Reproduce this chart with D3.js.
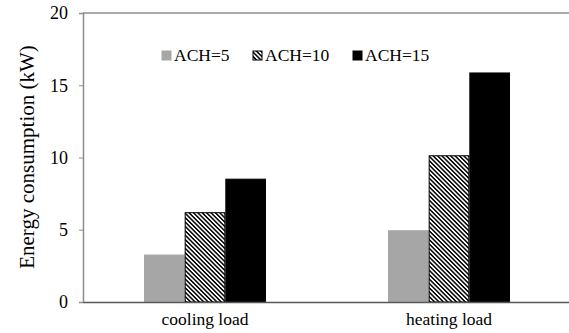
<!DOCTYPE html>
<html>
<head>
<meta charset="utf-8">
<script src="https://cdn.jsdelivr.net/npm/d3@7"></script>
<style>
    body { margin: 0; background: #fff; }
    svg text { font-family: "Liberation Serif", "Times New Roman", serif; fill: #000; }
</style>
</head>
<body>
<div id="chart"></div>
<script>
// chart values
var categories = ['cooling load', 'heating load'];
var seriesNames = ['ACH=5', 'ACH=10', 'ACH=15'];
var ach5 = [3.25, 4.93];
var ach10 = [6.18, 10.12];
var ach15 = [8.5, 15.85];
var yTicks = [0, 5, 10, 15, 20];

var width = 569, height = 333;
var margin = { top: 13, right: -2, bottom: 31, left: 83 };

var svg = d3.select('#chart').append('svg')
    .attr('width', width)
    .attr('height', height);

// diagonal hatch for the middle series, stripes running top-left to bottom-right
var defs = svg.append('defs');
defs.append('pattern')
    .attr('id', 'hatch')
    .attr('patternUnits', 'userSpaceOnUse')
    .attr('width', 3.1)
    .attr('height', 3.1)
    .attr('patternTransform', 'rotate(45)')
    .call((p) => {
        p.append('rect').attr('width', 3.1).attr('height', 3.1).attr('fill', '#fff');
        p.append('rect').attr('width', 3.1).attr('height', 1.5).attr('fill', '#000');
    });

var fills = ['#a6a6a6', 'url(#hatch)', '#000'];
var strokes = ['#a6a6a6', '#000', '#000'];

var x0 = d3.scaleBand()
    .domain(categories)
    .range([margin.left, width - margin.right])
    .paddingInner(0.5)
    .paddingOuter(0.25);

var x1 = d3.scaleBand()
    .domain(seriesNames)
    .range([0, x0.bandwidth()]);

var y = d3.scaleLinear()
    .domain([0, 20])
    .range([height - margin.bottom, margin.top]);

// frame top line
svg.append('line')
    .attr('x1', margin.left).attr('x2', width)
    .attr('y1', y(20)).attr('y2', y(20))
    .attr('stroke', '#8c8c8c').attr('stroke-width', 1.5);

// y axis
var yAxis = svg.append('g')
    .attr('transform', 'translate(' + margin.left + ',0)')
    .call(d3.axisLeft(y).tickValues(yTicks).tickSize(4).tickPadding(11));
yAxis.select('.domain').attr('stroke', '#8c8c8c').attr('stroke-width', 1.5);
yAxis.selectAll('.tick line').attr('stroke', '#8c8c8c');
yAxis.selectAll('.tick text').attr('font-size', 18);

// bars
var table = categories.map((c, i) => ({
    cat: c,
    values: [ach5[i], ach10[i], ach15[i]]
}));

var groups = svg.selectAll('.group')
    .data(table).enter().append('g')
    .attr('class', 'group')
    .attr('transform', (d) => 'translate(' + x0(d.cat) + ',0)');

groups.selectAll('rect')
    .data((d) => d.values.map((v, j) => ({ name: seriesNames[j], value: v, j: j })))
    .enter().append('rect')
    .attr('x', (d) => x1(d.name) + 0.5)
    .attr('width', x1.bandwidth() - 1)
    .attr('y', (d) => y(d.value))
    .attr('height', (d) => y(0) - y(d.value))
    .attr('fill', (d) => fills[d.j])
    .attr('stroke', (d) => strokes[d.j])
    .attr('stroke-width', 1);

// x axis
var xAxis = svg.append('g')
    .attr('transform', 'translate(0,' + y(0) + ')')
    .call(d3.axisBottom(x0).tickSize(0).tickPadding(11));
xAxis.select('.domain').attr('stroke', '#595959').attr('stroke-width', 1.5);
xAxis.selectAll('.tick text').attr('font-size', 17.5);

// y title
svg.append('text')
    .attr('transform', 'translate(34,' + 157 + ') rotate(-90)')
    .attr('text-anchor', 'middle')
    .attr('font-size', 21)
    .text('Energy consumption (kW)');

// legend
var legendX = [162, 253, 353];
var legend = svg.selectAll('.legend')
    .data(seriesNames).enter().append('g')
    .attr('class', 'legend')
    .attr('transform', (d, i) => 'translate(' + legendX[i] + ',51)');

legend.append('rect')
    .attr('width', 9).attr('height', 9)
    .attr('fill', (d, i) => fills[i])
    .attr('stroke', (d, i) => strokes[i]);

legend.append('text')
    .attr('x', 12)
    .attr('y', 10)
    .attr('font-size', 17.5)
    .text((d) => d);
</script>
</body>
</html>
